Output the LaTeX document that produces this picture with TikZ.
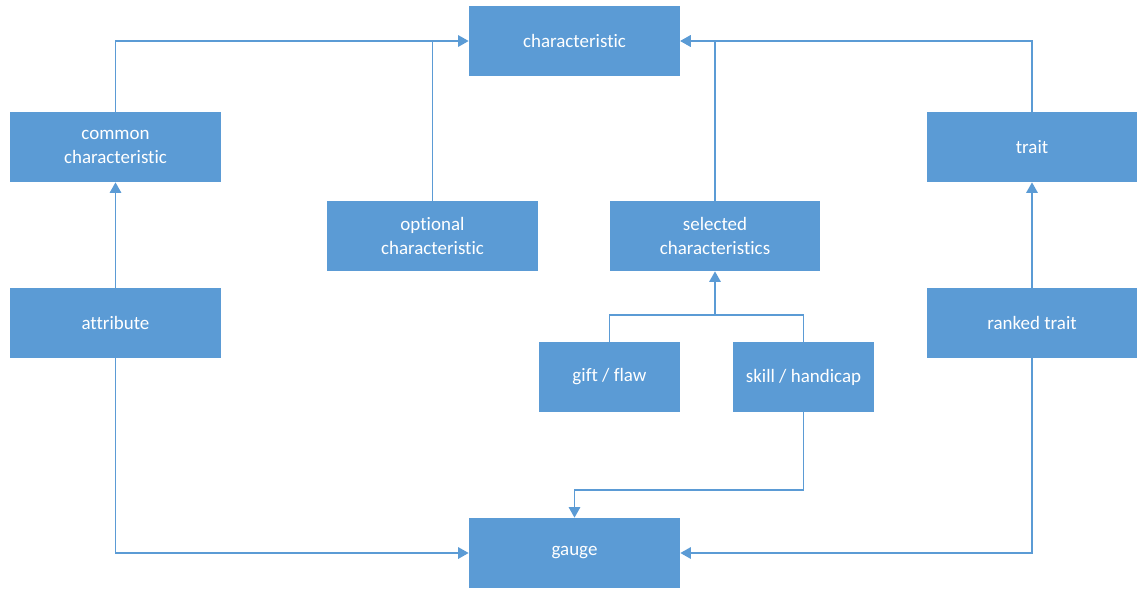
\documentclass[tikz,border=0pt]{standalone}
\usepackage{fontspec}
\setmainfont[Ligatures=NoCommon]{Carlito}
\usetikzlibrary{arrows.meta}
\definecolor{officeblue}{HTML}{5B9BD5}

\tikzset{
  box/.style={rectangle, fill=officeblue, text=white, minimum width=4.22cm,
    minimum height=1.4cm, align=center, inner sep=2pt,
    font=\fontsize{10.8}{13.5}\selectfont},
  smallbox/.style={box, minimum width=2.82cm},
  line/.style={draw=officeblue, line width=1pt},
  link/.style={line, -{Triangle[length=6pt,width=6.5pt]}}
}

\begin{document}
\begin{tikzpicture}[x=0.02cm,y=-0.02cm]
  \useasboundingbox (0,0) rectangle (1137,589);
  % boxes
  \node[box] (charac) at (574.5,41) {characteristic};
  \node[box] (common) at (115.5,147) {common\\characteristic};
  \node[box] (trait) at (1032,147) {trait};
  \node[box] (optional) at (432.5,236) {optional\\characteristic};
  \node[box] (selected) at (715,236) {selected\\characteristics};
  \node[box] (attribute) at (115.5,323) {attribute};
  \node[box] (ranked) at (1032,323) {ranked trait};
  \node[smallbox] (gift) at (609.5,377) {gift / flaw};
  \node[smallbox] (skill) at (803.5,377) {skill / handicap};
  \node[box] (gauge) at (574.5,553) {gauge};
  \coordinate (join) at (715,315);
  % connectors
  \draw[link] (common.north) |- (charac.west);
  \draw[line] (optional.north) -- (optional.north |- charac.west);
  \draw[link] (selected.north) |- (charac.east);
  \draw[link] (trait.north) |- (charac.east);
  \draw[link] (attribute) -- (common);
  \draw[link] (ranked) -- (trait);
  \draw[line] (gift.north) |- (join) -| (skill.north);
  \draw[link] (join) -- (selected.south);
  \draw[link] (skill.south) -- ++(0,78) -| (gauge.north);
  \draw[link] (attribute.south) |- (gauge.west);
  \draw[link] (ranked.south) |- (gauge.east);
\end{tikzpicture}
\end{document}
